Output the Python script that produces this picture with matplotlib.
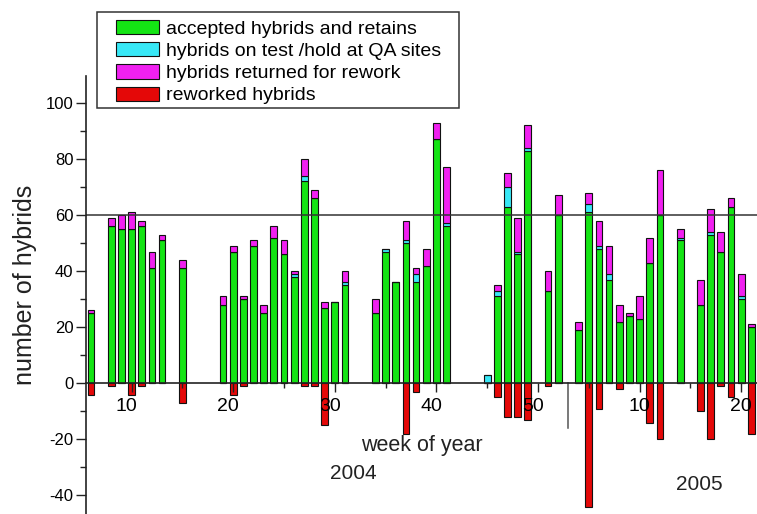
import numpy as np
import matplotlib.pyplot as plt
from matplotlib.patches import Patch, Rectangle
from matplotlib.transforms import ScaledTranslation

plt.rcParams['font.family'] = ['Liberation Sans', 'DejaVu Sans']
plt.rcParams['axes.unicode_minus'] = False

# %% Weekly hybrid counts

weeks_2004 = [6, 8, 9, 10, 11, 12, 13, 15,
              19, 20, 21, 22, 23, 24, 25, 26, 27, 28, 29, 30, 31,
              34, 35, 36, 37, 38, 39, 40, 41,
              45, 46, 47, 48, 49, 51, 52]
accepted_2004 = [25, 56, 55, 55, 56, 41, 51, 41,
                 28, 47, 30, 49, 25, 52, 46, 38, 72, 66, 27, 29, 35,
                 25, 47, 36, 50, 36, 42, 87, 56,
                 0, 31, 63, 46, 83, 33, 60]
on_test_2004 = [0, 0, 0, 0, 0, 0, 0, 0,
                0, 0, 0, 0, 0, 0, 0, 1, 2, 0, 0, 0, 1,
                0, 1, 0, 1, 3, 0, 0, 1,
                3, 2, 7, 1, 1, 0, 0]
returned_2004 = [1, 3, 5, 6, 2, 6, 2, 3,
                 3, 2, 1, 2, 3, 4, 5, 1, 6, 3, 2, 0, 4,
                 5, 0, 0, 7, 2, 6, 6, 20,
                 0, 2, 5, 12, 8, 7, 7]
reworked_2004 = [-4, -1, 0, -4, -1, 0, 0, -7,
                 0, -4, -1, 0, 0, 0, 0, 0, -1, -1, -15, 0, 0,
                 0, 0, 0, -18, -3, 0, 0, 0,
                 0, -5, -12, -12, -13, -1, 0]

weeks_2005 = [4, 5, 6, 7, 8, 9, 10, 11, 12, 14, 16, 17, 18, 19, 20, 21]
accepted_2005 = [19, 61, 48, 37, 22, 24, 23, 43, 60, 51, 28, 53, 47, 63, 30, 20]
on_test_2005 = [0, 3, 1, 2, 0, 0, 0, 0, 0, 1, 0, 1, 0, 0, 1, 0]
returned_2005 = [3, 4, 9, 10, 6, 1, 8, 9, 16, 3, 9, 8, 7, 3, 8, 1]
reworked_2005 = [0, -44, -9, 0, -2, 0, 0, -14, -20, 0, -10, -20, -1, -5, 0, -18]

labels = ['accepted hybrids and retains',
          'hybrids on test /hold at QA sites',
          'hybrids returned for rework',
          'reworked hybrids']
colors = ['#14e414', '#38e8f6', '#f020f0', '#e40808']

target = 60
year_break = 53     # end of 2004 on the shared week axis
offset_2005 = 50    # 2005 weeks continue after 2004 on the same axis

# %% Plot

fig = plt.figure(figsize=(7.57, 5.14), dpi=100)
W, H = 757, 514
ax = fig.add_axes([86 / W, 0, 1 - 86 / W, (514 - 76) / H])
ax.patch.set_alpha(0)

edge = dict(edgecolor='#111111', linewidth=0.8, width=0.66, zorder=2)


def stacked(x, accepted, on_test, returned, reworked):
    accepted = np.asarray(accepted)
    on_test = np.asarray(on_test)
    ax.bar(x, accepted, color=colors[0], **edge)
    ax.bar(x, on_test, bottom=accepted, color=colors[1], **edge)
    ax.bar(x, returned, bottom=accepted + on_test, color=colors[2], **edge)
    ax.bar(x, reworked, color=colors[3], **edge)


stacked(np.asarray(weeks_2004), accepted_2004, on_test_2004, returned_2004, reworked_2004)
stacked(np.asarray(weeks_2005) + offset_2005, accepted_2005, on_test_2005, returned_2005, reworked_2005)

ax.axhline(target, color='#333333', lw=1.1, zorder=3)
ax.plot([year_break, year_break], [0, -16], color='#555555', lw=1.1, zorder=3)

ax.set_xlim(5.51, 71.56)
ax.set_ylim(-46.6, 109.6)

for s in ['top', 'right']:
    ax.spines[s].set_visible(False)
ax.spines['bottom'].set_position(('data', 0))
for s in ['left', 'bottom']:
    ax.spines[s].set_color('#222222')
    ax.spines[s].set_linewidth(1.2)
    ax.spines[s].set_zorder(4)
# week numbers are printed over the bars
ax.xaxis.set_zorder(5)
ax.yaxis.set_zorder(5)

ax.set_xticks([10, 20, 30, 40, 50, 60, 70])
ax.set_xticklabels(['10', '20', '30', '40', '50', '10', '20'])
ax.set_xticks([15, 25, 35, 45, 55, 65], minor=True)
ax.set_yticks(np.arange(-40, 101, 20))
ax.set_yticks(np.arange(-30, 101, 20), minor=True)
ax.tick_params(axis='x', which='major', direction='out', length=6.5, width=1,
               color='#222222', labelsize=14, pad=4)
ax.tick_params(axis='x', which='minor', direction='out', length=3.6, width=1, color='#222222')
ax.tick_params(axis='y', which='major', direction='out', length=7, width=1,
               color='#222222', labelsize=12, pad=2)
ax.tick_params(axis='y', which='minor', direction='out', length=4.3, width=1, color='#222222')

# 2004 week numbers sit a little left of their ticks
shift = ScaledTranslation(-5 / 100, 0, fig.dpi_scale_trans)
for lab in ax.get_xticklabels()[:5]:
    lab.set_transform(lab.get_transform() + shift)

ax.text(38.6, -22, 'week of year', fontsize=15.5, ha='center', va='center', color='#222222')
ax.text(31.8, -32, '2004', fontsize=15, ha='center', va='center', color='#222222')
ax.text(65.9, -36, '2005', fontsize=15, ha='center', va='center', color='#222222')

fig.text(25 / W, 1 - 285 / H, 'number of hybrids', rotation=90, fontsize=18,
         ha='center', va='center', color='#222222')

# legend with a square frame drawn separately
handles = [Patch(facecolor=c, edgecolor='#111111', linewidth=0.8) for c in colors]
fig.legend(handles, labels, loc='upper left', bbox_to_anchor=(116 / W, 1 - 20 / H),
           frameon=False, fontsize=14, borderpad=0, borderaxespad=0,
           handlelength=2.2, handleheight=0.75, handletextpad=0.36, labelspacing=0.22)
fig.patches.append(Rectangle((97 / W, 1 - 108 / H), (459 - 97) / W, (108 - 12) / H,
                             transform=fig.transFigure, fill=False,
                             edgecolor='#333333', linewidth=1.1))

fig.savefig('out.png', dpi=100)
